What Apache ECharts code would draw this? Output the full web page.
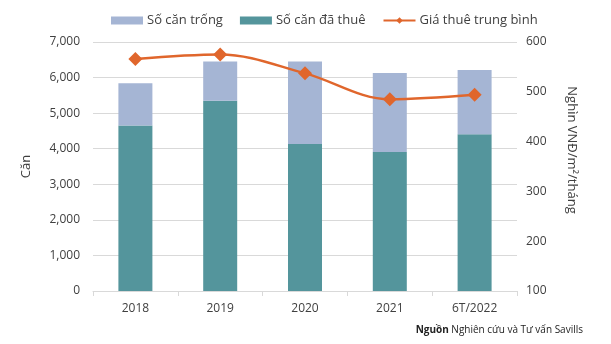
<!DOCTYPE html>
<html>
<head>
<meta charset="utf-8">
<script src="https://cdn.jsdelivr.net/npm/echarts@6/dist/echarts.min.js"></script>
<style>
  html, body { margin: 0; padding: 0; background: #fff; }
  #chart { width: 611px; height: 344px; }
</style>
</head>
<body>
<div id="chart"></div>
<script>
// Apartment supply: vacant vs rented units, and average rent
const categories = ['2018', '2019', '2020', '2021', '6T/2022'];
const vacantUnits = [1190, 1100, 2320, 2220, 1800];
const rentedUnits = [4650, 5350, 4130, 3910, 4410];
const avgRent = [566, 575, 537, 485, 494];

const FONT = '"Open Sans", "Noto Sans", sans-serif';
const TEXT = '#404040';

const chart = echarts.init(document.getElementById('chart'));
chart.setOption({
  animation: false,
  textStyle: { fontFamily: FONT },
  grid: { left: 93, right: 94, top: 42, bottom: 53 },
  legend: {
    top: 9,
    left: 106,
    itemGap: 17,
    itemWidth: 32,
    itemHeight: 8,
    textStyle: { fontSize: 13, color: TEXT, fontFamily: FONT, padding: [0, 0, 0, -1] },
    data: [
      { name: 'Số căn trống', icon: 'rect' },
      { name: 'Số căn đã thuê', icon: 'rect' },
      { name: 'Giá thuê trung bình' }
    ]
  },
  xAxis: {
    type: 'category',
    data: categories,
    axisLine: { lineStyle: { color: '#d9d9d9' } },
    axisTick: { show: true, lineStyle: { color: '#d9d9d9' } },
    axisLabel: { color: TEXT, fontSize: 12, margin: 12 }
  },
  yAxis: [
    {
      type: 'value',
      min: 0, max: 7000, interval: 1000,
      name: 'Căn',
      nameLocation: 'middle',
      nameGap: 60,
      nameRotate: 90,
      nameTextStyle: { color: TEXT, fontSize: 13 },
      axisLabel: {
        color: TEXT, fontSize: 12, margin: 13,
        formatter: v => v.toLocaleString('en-US')
      },
      splitLine: { lineStyle: { color: '#d9d9d9' } }
    },
    {
      type: 'value',
      min: 100, max: 600, interval: 100,
      axisLabel: { color: TEXT, fontSize: 12, margin: 9 },
      splitLine: { show: false }
    }
  ],
  series: [
    {
      name: 'Số căn đã thuê',
      type: 'bar',
      stack: 'units',
      barWidth: 34,
      itemStyle: { color: '#54959C' },
      data: rentedUnits,
      z: 2
    },
    {
      name: 'Số căn trống',
      type: 'bar',
      stack: 'units',
      barWidth: 34,
      itemStyle: { color: '#A5B5D4' },
      data: vacantUnits,
      z: 2
    },
    {
      name: 'Giá thuê trung bình',
      type: 'line',
      yAxisIndex: 1,
      smooth: 0.35,
      symbol: 'diamond',
      symbolSize: 14,
      lineStyle: { color: '#E0662C', width: 2.4 },
      itemStyle: { color: '#E0662C' },
      data: avgRent,
      z: 5
    }
  ],
  graphic: [
    {
      // right axis title, reading top to bottom
      type: 'text',
      x: 572,
      y: 150,
      rotation: -Math.PI / 2,
      style: {
        text: 'Nghìn VNĐ/m²/tháng',
        fill: TEXT,
        font: '13px ' + FONT,
        align: 'center',
        verticalAlign: 'middle'
      }
    },
    {
      type: 'text',
      right: 28,
      top: 325,
      style: {
        text: '{b|Nguồn} Nghiên cứu và Tư vấn Savills',
        fill: '#222',
        font: '10px ' + FONT,
        rich: {
          b: { fontWeight: 'bold', fontSize: 10, fill: '#222', fontFamily: FONT }
        }
      }
    }
  ]
});
</script>
</body>
</html>
